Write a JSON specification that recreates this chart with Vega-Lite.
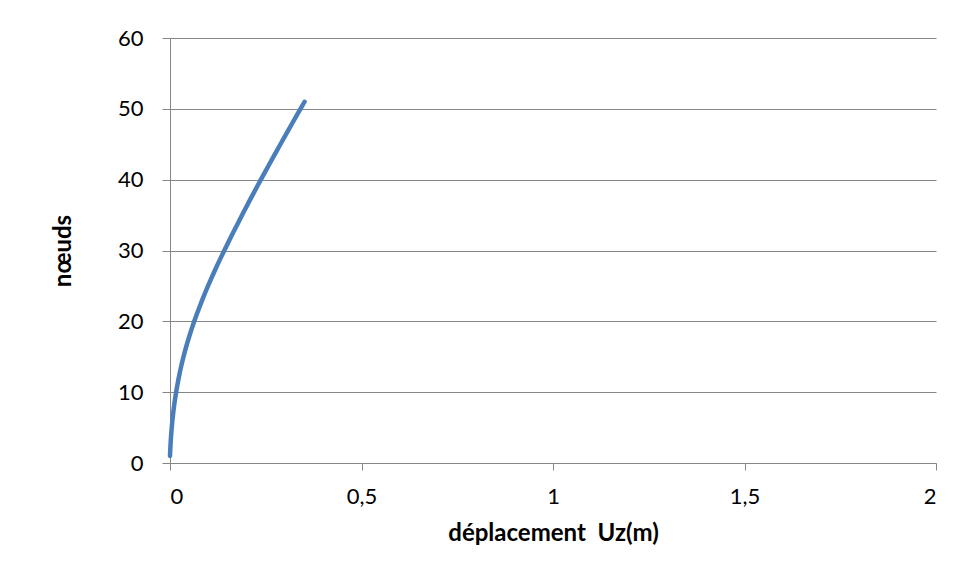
{
  "$schema": "https://vega.github.io/schema/vega-lite/v6.json",
  "width": 766,
  "height": 425,
  "autosize": {"type": "none"},
  "padding": {"left": 170, "top": 38, "right": 24, "bottom": 118},
  "background": "white",
  "config": {
    "view": {"stroke": null},
    "font": "Lato"
  },
  "data": {
    "values": [
      {"noeud": 1, "Uz": 0},
      {"noeud": 2, "Uz": 0.0008},
      {"noeud": 3, "Uz": 0.0018},
      {"noeud": 4, "Uz": 0.0030},
      {"noeud": 5, "Uz": 0.0045},
      {"noeud": 6, "Uz": 0.0062},
      {"noeud": 7, "Uz": 0.0082},
      {"noeud": 8, "Uz": 0.0105},
      {"noeud": 9, "Uz": 0.0131},
      {"noeud": 10, "Uz": 0.0160},
      {"noeud": 11, "Uz": 0.0192},
      {"noeud": 12, "Uz": 0.0227},
      {"noeud": 13, "Uz": 0.0265},
      {"noeud": 14, "Uz": 0.0307},
      {"noeud": 15, "Uz": 0.0352},
      {"noeud": 16, "Uz": 0.0401},
      {"noeud": 17, "Uz": 0.0454},
      {"noeud": 18, "Uz": 0.0510},
      {"noeud": 19, "Uz": 0.0570},
      {"noeud": 20, "Uz": 0.0633},
      {"noeud": 21, "Uz": 0.0699},
      {"noeud": 22, "Uz": 0.0768},
      {"noeud": 23, "Uz": 0.0840},
      {"noeud": 24, "Uz": 0.0915},
      {"noeud": 25, "Uz": 0.0993},
      {"noeud": 26, "Uz": 0.1073},
      {"noeud": 27, "Uz": 0.1156},
      {"noeud": 28, "Uz": 0.1241},
      {"noeud": 29, "Uz": 0.1328},
      {"noeud": 30, "Uz": 0.1417},
      {"noeud": 31, "Uz": 0.1508},
      {"noeud": 32, "Uz": 0.1600},
      {"noeud": 33, "Uz": 0.1693},
      {"noeud": 34, "Uz": 0.1787},
      {"noeud": 35, "Uz": 0.1882},
      {"noeud": 36, "Uz": 0.1978},
      {"noeud": 37, "Uz": 0.2075},
      {"noeud": 38, "Uz": 0.2173},
      {"noeud": 39, "Uz": 0.2272},
      {"noeud": 40, "Uz": 0.2372},
      {"noeud": 41, "Uz": 0.2473},
      {"noeud": 42, "Uz": 0.2575},
      {"noeud": 43, "Uz": 0.2677},
      {"noeud": 44, "Uz": 0.2780},
      {"noeud": 45, "Uz": 0.2883},
      {"noeud": 46, "Uz": 0.2987},
      {"noeud": 47, "Uz": 0.3091},
      {"noeud": 48, "Uz": 0.3196},
      {"noeud": 49, "Uz": 0.3301},
      {"noeud": 50, "Uz": 0.3407},
      {"noeud": 51, "Uz": 0.3513}
    ]
  },
  "mark": {"type": "line", "stroke": "#4a7ebb", "strokeWidth": 4.5, "strokeCap": "round", "strokeJoin": "round"},
  "encoding": {
    "x": {
      "field": "Uz", "type": "quantitative",
      "scale": {"domain": [0, 2], "nice": false, "zero": true},
      "axis": {
        "title": "déplacement \u00a0Uz(m)",
        "values": [0, 0.5, 1, 1.5, 2],
        "labelExpr": "replace(toString(datum.value), '.', ',')",
        "grid": false,
        "domainColor": "#868686",
        "tickColor": "#868686",
        "tickSize": 7,
        "labelPadding": 16,
        "labelFontSize": 22,
        "labelColor": "#000000",
        "labelFont": "Lato",
        "titleFont": "Lato",
        "titleFontSize": 24,
        "titleFontWeight": "bold",
        "titleColor": "#000000",
        "titlePadding": 14
      }
    },
    "y": {
      "field": "noeud", "type": "quantitative",
      "scale": {"domain": [0, 60], "nice": false},
      "axis": {
        "title": "nœuds",
        "values": [0, 10, 20, 30, 40, 50, 60],
        "grid": true,
        "gridColor": "#868686",
        "gridWidth": 1,
        "domainColor": "#868686",
        "tickColor": "#868686",
        "tickSize": 8,
        "labelPadding": 19,
        "labelFontSize": 22,
        "labelColor": "#000000",
        "labelFont": "Lato",
        "titleFont": "Lato",
        "titleFontSize": 24,
        "titleFontWeight": "bold",
        "titleColor": "#000000",
        "titlePadding": 42
      }
    },
    "order": {"field": "noeud", "type": "quantitative"}
  }
}
